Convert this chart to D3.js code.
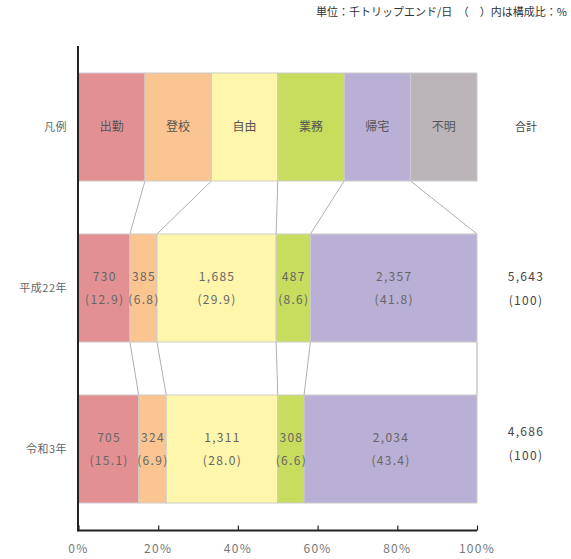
<!DOCTYPE html>
<html>
<head>
<meta charset="utf-8">
<script src="https://cdn.jsdelivr.net/npm/d3@7"></script>
<style>
  body { margin: 0; background: #fff; }
  text { font-family: "Noto Sans CJK JP", "Noto Sans", sans-serif; fill: #666; }
</style>
</head>
<body>
<div id="chart"></div>
<script>
const width = 571;
const height = 559;

// data
const purposes = ["出勤", "登校", "自由", "業務", "帰宅", "不明"];
const colors = ["#e39093", "#fbc591", "#fdf6ab", "#c8dc5d", "#baafd4", "#bbb5ba"];
const rows = ["凡例", "平成22年", "令和3年"];
const h22Values = [730, 385, 1685, 487, 2357];
const h22Shares = [12.9, 6.8, 29.9, 8.6, 41.8];
const r3Values = [705, 324, 1311, 308, 2034];
const r3Shares = [15.1, 6.9, 28.0, 6.6, 43.4];
const totals = ["5,643", "4,686"];
const ticks = [0, 20, 40, 60, 80, 100];

const svg = d3.select("#chart").append("svg")
    .attr("width", width)
    .attr("height", height);

const x = d3.scaleLinear().domain([0, 100]).range([78.5, 477]);
const y = d3.scaleBand().domain(rows).range([73, 503]).paddingInner(0.329).paddingOuter(0);
const bw = y.bandwidth();

// build segments: legend is equal width, the years use shares
function segs(shares) {
    let acc = 0;
    return shares.map((s, i) => {
        const d = { i: i, x0: acc, x1: acc + s };
        acc += s;
        return d;
    });
}
const legendSegs = purposes.map((p, i) => ({ i: i, x0: i * 100 / 6, x1: (i + 1) * 100 / 6, name: p }));
const h22Segs = segs(h22Shares);
h22Segs[h22Segs.length - 1].x1 = 100;
const r3Segs = segs(r3Shares);
r3Segs[r3Segs.length - 1].x1 = 100;

const rowData = [
    { row: rows[0], segs: legendSegs },
    { row: rows[1], segs: h22Segs, values: h22Values, shares: h22Shares },
    { row: rows[2], segs: r3Segs, values: r3Values, shares: r3Shares }
];

// connector lines between rows
for (let r = 0; r < rowData.length - 1; r++) {
    const up = rowData[r].segs, down = rowData[r + 1].segs;
    const yTop = y(rowData[r].row) + bw;
    const yBot = y(rowData[r + 1].row);
    svg.append("g")
        .attr("stroke", "#b0b0b0")
        .attr("stroke-width", 1)
        .selectAll("line")
        .data(down.map((d, k) => ({ a: up[k].x1, b: d.x1 })))
        .join("line")
        .attr("x1", d => x(d.a))
        .attr("x2", d => x(d.b))
        .attr("y1", yTop)
        .attr("y2", yBot);
}

// bars
rowData.forEach(rd => {
    const g = svg.append("g");
    g.selectAll("rect")
        .data(rd.segs)
        .join("rect")
        .attr("x", d => x(d.x0))
        .attr("y", y(rd.row))
        .attr("width", d => x(d.x1) - x(d.x0))
        .attr("height", bw)
        .attr("fill", d => colors[d.i])
        .attr("stroke", "#cccccc")
        .attr("stroke-width", 1);

    if (rd.values) {
        const cy = y(rd.row) + bw / 2;
        g.selectAll("text.v")
            .data(rd.segs)
            .join("text")
            .attr("class", "v")
            .attr("x", d => x((d.x0 + d.x1) / 2) + 0.5)
            .attr("y", cy - 7)
            .attr("text-anchor", "middle")
            .style("font-size", "12px")
            .style("letter-spacing", "1.3px")
            .text(d => d3.format(",")(rd.values[d.i]));
        g.selectAll("text.s")
            .data(rd.segs)
            .join("text")
            .attr("class", "s")
            .attr("x", d => x((d.x0 + d.x1) / 2) + 0.5)
            .attr("y", cy + 16)
            .attr("text-anchor", "middle")
            .style("font-size", "12px")
            .style("letter-spacing", "1.3px")
            .text(d => "(" + rd.shares[d.i].toFixed(1) + ")");
    } else {
        g.selectAll("text")
            .data(rd.segs)
            .join("text")
            .attr("x", d => x((d.x0 + d.x1) / 2))
            .attr("y", y(rd.row) + bw / 2 + 4)
            .attr("text-anchor", "middle")
            .style("font-size", "12px")
            .style("fill", "#555")
            .text(d => d.name);
    }
});

// row labels on the left
svg.append("g")
    .selectAll("text")
    .data(rows)
    .join("text")
    .attr("x", 67)
    .attr("y", d => y(d) + bw / 2 + 4)
    .attr("text-anchor", "end")
    .style("font-size", "11px")
    .style("letter-spacing", "0.5px")
    .text(d => d);

// totals column
const totX = 526;
svg.append("text")
    .attr("x", totX)
    .attr("y", y(rows[0]) + bw / 2 + 4)
    .attr("text-anchor", "middle")
    .style("font-size", "11px")
    .style("fill", "#444")
    .text("合計");
totals.forEach((t, k) => {
    const cy = y(rows[k + 1]) + bw / 2;
    const off = k === 0 ? 0 : -6;
    svg.append("text")
        .attr("x", totX)
        .attr("y", cy - 7 + off)
        .attr("text-anchor", "middle")
        .style("font-size", "12px")
        .style("fill", "#444")
        .style("letter-spacing", "1.3px")
        .text(t);
    svg.append("text")
        .attr("x", totX)
        .attr("y", cy + 17 + off)
        .attr("text-anchor", "middle")
        .style("font-size", "12px")
        .style("fill", "#444")
        .style("letter-spacing", "1.3px")
        .text("(100)");
});

// x axis
const axisY = 530.5;
const xAxis = svg.append("g")
    .attr("transform", `translate(0,${axisY})`)
    .call(d3.axisTop(x).tickValues(ticks).tickSize(5).tickFormat(""));
xAxis.select(".domain").attr("stroke", "#222").attr("stroke-width", 2)
    .attr("d", `M${x(0)},0H${x(100)}`);
xAxis.selectAll(".tick line").attr("stroke", "#222").attr("stroke-width", 1.2);

svg.append("g")
    .selectAll("text")
    .data(ticks)
    .join("text")
    .attr("x", d => x(d))
    .attr("y", 553)
    .attr("text-anchor", "middle")
    .style("font-size", "12px")
    .style("letter-spacing", "1.3px")
    .style("fill", "#777")
    .text(d => d + "%");

// y axis line
svg.append("line")
    .attr("x1", 78).attr("x2", 78)
    .attr("y1", 46).attr("y2", axisY + 1)
    .attr("stroke", "#222")
    .attr("stroke-width", 2);

// unit note
svg.append("text")
    .attr("x", 567)
    .attr("y", 16)
    .attr("text-anchor", "end")
    .style("font-size", "11px")
    .style("fill", "#333")
    .text("単位：千トリップエンド/日　（　）内は構成比：%");
</script>
</body>
</html>
